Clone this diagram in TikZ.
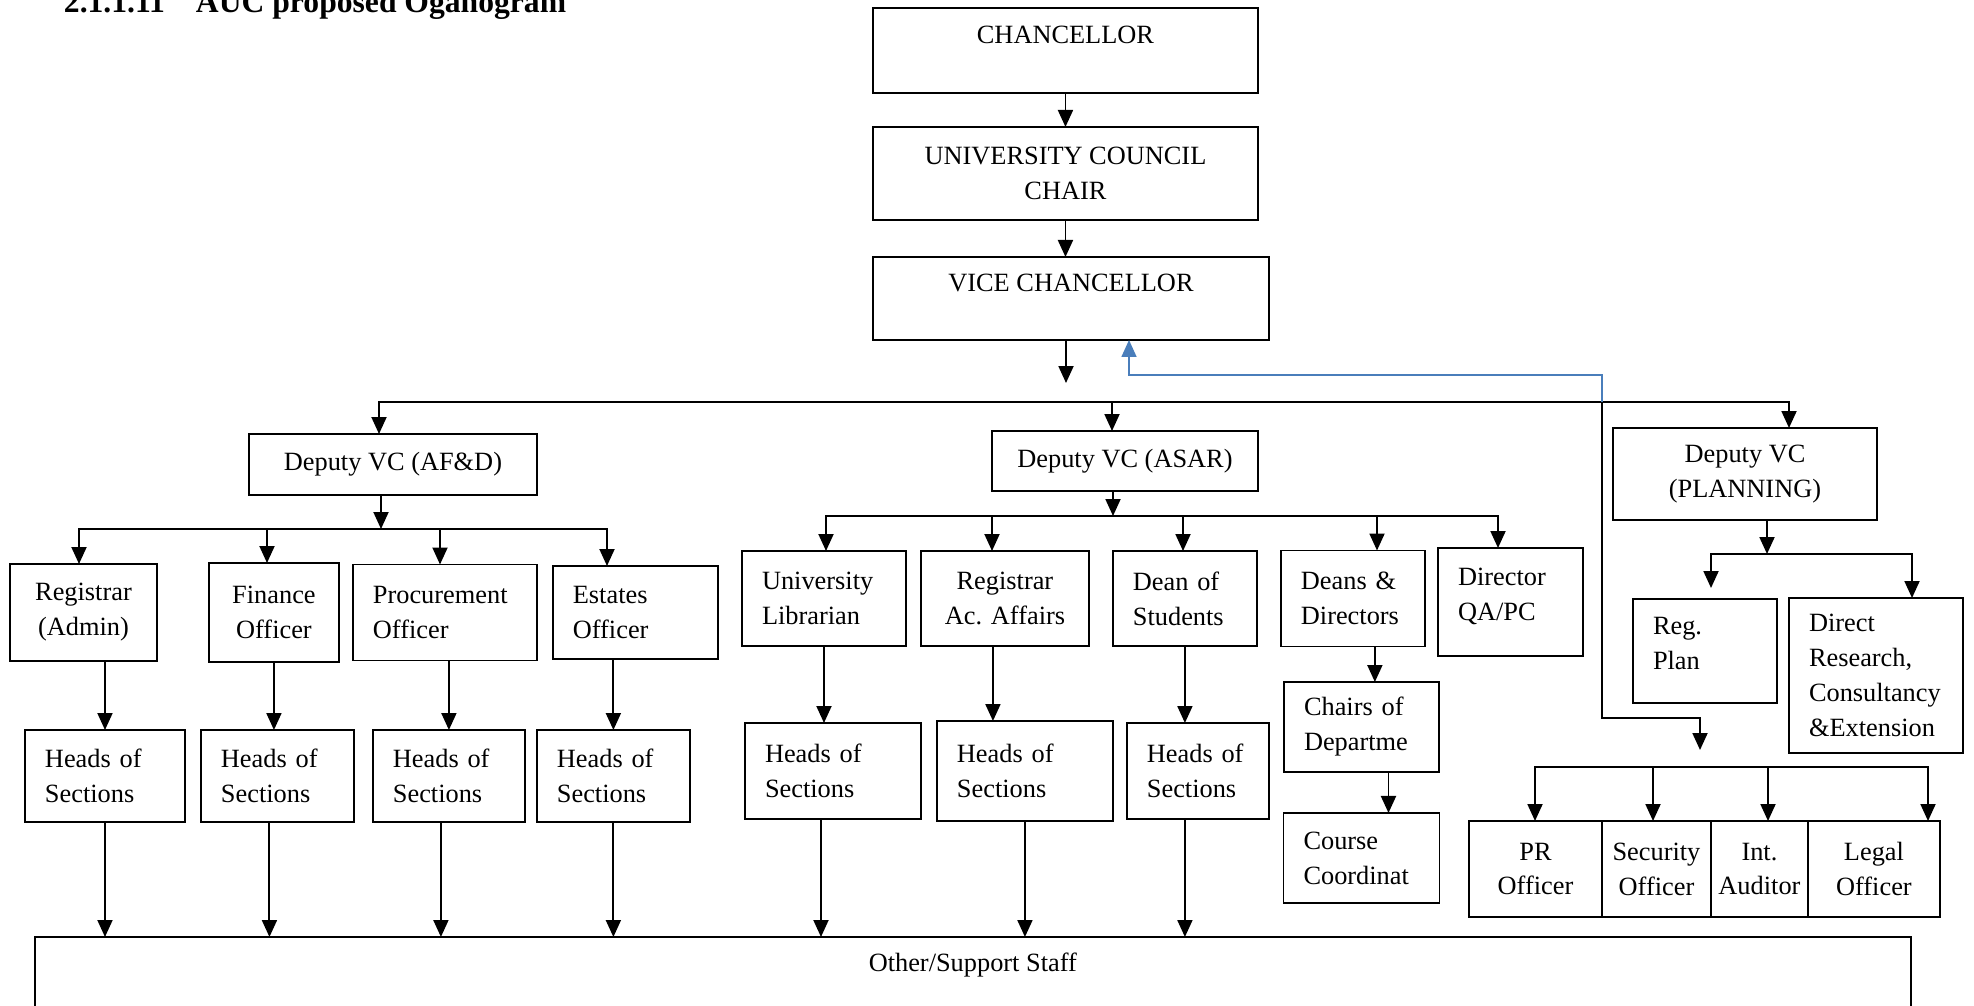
\documentclass[tikz,border=0pt]{standalone}
\usepackage{fontspec}
\setmainfont{Liberation Serif}
\usepackage{xcolor}
\usepackage{tikz}
\usetikzlibrary{arrows.meta, positioning, calc}
\definecolor{linkblue}{HTML}{4A7EBB}
\tikzset{
    orgchart/.style={>={Triangle[length=0.34cm, width=0.3cm]}, line width=1.1pt,
        x=0.02cm, y=-0.02cm, font=\fontsize{15}{19.9}\selectfont},
    block/.style={draw, inner sep=0pt, outer sep=0pt, anchor=north west, align=center},
    % left aligned text, as in the word text boxes
    lblock/.style={block, align=left, inner xsep=0.4cm, text width=#1},
    heading/.style={font=\fontsize{18}{22}\selectfont\bfseries, inner sep=0pt, anchor=base west},
    link/.style={draw=linkblue, line width=0.9pt},
}

\begin{document}
\begin{tikzpicture}[orgchart]
    \useasboundingbox (0,0) rectangle (1974,1006);
    \node[heading] (title) at (63,13) {2.1.1.11\hspace{0.62cm}AUC proposed Oganogram};

    % top of the chart
    \node[block, minimum width=7.7cm, text height=0.72cm, text depth=0.98cm] (chan) at (873,8) {CHANCELLOR};
    \node[block, below=0.68cm of chan, minimum width=7.7cm, minimum height=1.86cm] (council) {UNIVERSITY COUNCIL\\CHAIR};
    \node[block, minimum width=7.92cm, text height=0.7cm, text depth=0.96cm] (vc) at (873,257) {VICE CHANCELLOR};
    \coordinate (vcend) at (1066,383);

    % deputies
    \node[block, minimum width=5.76cm, minimum height=1.22cm] (dvcA) at (249,434) {Deputy VC (AF\&D)};
    \node[block, minimum width=5.32cm, minimum height=1.2cm] (dvcB) at (992,431) {Deputy VC (ASAR)};
    \node[block, minimum width=5.28cm, minimum height=1.84cm] (dvcC) at (1613,428) {Deputy VC\\(PLANNING)};

    % AF&D branch
    \node[block, minimum width=2.94cm, minimum height=1.94cm] (regA) at (10,564) {Registrar\\(Admin)};
    \node[block, right=1.04cm of regA, minimum width=2.6cm, minimum height=1.98cm] (fin) {Finance\\Officer};
    \node[lblock=2.88cm, right=0.28cm of fin, minimum height=1.92cm] (proc) {Procurement\\Officer};
    \node[lblock=2.5cm, right=0.32cm of proc, minimum height=1.86cm] (est) {Estates\\Officer};
    \node[lblock=2.4cm, minimum height=1.84cm] (hA1) at (25,730) {Heads of\\Sections};
    \node[lblock=2.26cm, right=0.32cm of hA1, minimum height=1.84cm] (hA2) {Heads of\\Sections};
    \node[lblock=2.24cm, right=0.38cm of hA2, minimum height=1.84cm] (hA3) {Heads of\\Sections};
    \node[lblock=2.26cm, right=0.24cm of hA3, minimum height=1.84cm] (hA4) {Heads of\\Sections};

    % ASAR branch
    \node[lblock=2.48cm, minimum height=1.9cm] (lib) at (742,551) {University\\Librarian};
    \node[block, right=0.3cm of lib, minimum width=3.36cm, minimum height=1.9cm] (regB) {Registrar\\Ac. Affairs};
    \node[lblock=2.08cm, right=0.48cm of regB, minimum height=1.9cm] (dean) {Dean of\\Students};
    \node[lblock=2.08cm, right=0.48cm of dean, minimum height=1.92cm] (deans) {Deans \&\\Directors};
    \node[lblock=2.1cm, anchor=north west, text height=0.76cm, text depth=1.4cm] (qapc) at (1438,548) {Director\\QA/PC};
    \node[lblock=2.72cm, minimum height=1.92cm] (hB1) at (745,723) {Heads of\\Sections};
    \node[lblock=2.72cm, right=0.32cm of hB1, minimum height=2cm] (hB2) {Heads of\\Sections};
    \node[lblock=2.04cm, right=0.28cm of hB2, minimum height=1.92cm] (hB3) {Heads of\\Sections};
    \node[lblock=2.3cm, minimum height=1.8cm] (chairs) at (1284,682) {Chairs of\\Departme};
    \node[lblock=2.32cm, below=0.82cm of chairs, minimum height=1.8cm] (course) {Course\\Coordinat};

    % planning branch
    \node[lblock=2.08cm, text height=0.72cm, text depth=1.36cm] (regplan) at (1633,599) {Reg.\\Plan};
    \node[lblock=2.68cm, minimum height=3.1cm] (research) at (1789,598) {Direct\\Research,\\Consultancy\\\&Extension};
    \node[block, minimum width=2.66cm, minimum height=1.92cm] (pr) at (1469,821) {PR\\Officer};
    \node[block, right=0pt of pr, minimum width=2.18cm, minimum height=1.92cm] (sec) {Security\\Officer};
    \node[block, right=0pt of sec, minimum width=1.94cm, minimum height=1.92cm] (aud) {Int.\\Auditor};
    \node[block, right=0pt of aud, minimum width=2.64cm, minimum height=1.92cm] (legal) {Legal\\Officer};

    \node[block, minimum width=37.52cm, text height=0.7cm, text depth=1.5cm] (support) at (35,937) {Other/Support Staff};

    % bus points
    \coordinate (bus1) at (379,402);
    \coordinate (bus2) at (1112,402);
    \coordinate (tap)  at (1602,402);
    \coordinate (bus3) at (1789,402);
    \coordinate (elbow) at (1129,375);
    \coordinate (bend) at (1602,718);
    \coordinate (drop) at (1700,750);
    \coordinate (afd) at (381,529);
    \coordinate (a1) at (79,529);
    \coordinate (a2) at (267,529);
    \coordinate (a3) at (440,529);
    \coordinate (a4) at (607,529);
    \coordinate (asar) at (1113,516);
    \coordinate (b1) at (826,516);
    \coordinate (b2) at (992,516);
    \coordinate (b3) at (1183,516);
    \coordinate (b4) at (1377,516);
    \coordinate (b5) at (1498,516);
    \coordinate (plan) at (1767,554);
    \coordinate (c1) at (1711,554);
    \coordinate (c2) at (1912,554);
    \coordinate (d1) at (1535,767);
    \coordinate (d2) at (1653,767);
    \coordinate (d3) at (1768,767);
    \coordinate (d4) at (1928,767);

    % spine
    \draw[->] (chan) -- (council);
    \draw[->] (council) -- (council |- vc.north);
    \draw[->] (vcend |- vc.south) -- (vcend);
    \draw[<->] (bus1 |- dvcA.north) -- (bus1) -- (bus3) -- (bus3 |- dvcC.north);
    \draw[->] (bus2) -- (bus2 |- dvcB.north);
    \draw[link, ->] (tap) |- (elbow) -- (elbow |- vc.south);
    \draw[->] (tap) -- (bend) -| (drop);

    % AF&D links
    \draw[->] (afd |- dvcA.south) -- (afd);
    \draw[<->] (a1 |- regA.north) -- (a1) -- (a4) -- (a4 |- est.north);
    \draw[->] (a2) -- (a2 |- fin.north);
    \draw[->] (a3) -- (a3 |- proc.north);
    \draw[->] (hA1.north |- regA.south) -- (hA1.north);
    \draw[->] (fin) -- (fin |- hA2.north);
    \draw[->] (hA3.north |- proc.south) -- (hA3.north);
    \draw[->] (hA4.north |- est.south) -- (hA4.north);
    \draw[->] (hA1) -- (hA1 |- support.north);
    \draw[->] ($(hA2.south)+(-8,0)$) -- ($(hA2.south |- support.north)+(-8,0)$);
    \draw[->] ($(hA3.south)+(-8,0)$) -- ($(hA3.south |- support.north)+(-8,0)$);
    \draw[->] (hA4) -- (hA4 |- support.north);

    % ASAR links
    \draw[->] (asar |- dvcB.south) -- (asar);
    \draw[<->] (b1 |- lib.north) -- (b1) -- (b5) -- (b5 |- qapc.north);
    \draw[->] (b2) -- (b2 |- regB.north);
    \draw[->] (b3) -- (b3 |- dean.north);
    \draw[->] (b4) -- (b4 |- deans.north);
    \draw[->] (lib) -- (lib |- hB1.north);
    \draw[->] ($(regB.south)+(-12,0)$) -- ($(regB.south |- hB2.north)+(-12,0)$);
    \draw[->] (dean) -- (dean |- hB3.north);
    \draw[->] ($(hB1.south)+(-12,0)$) -- ($(hB1.south |- support.north)+(-12,0)$);
    \draw[->] (hB2) -- (hB2 |- support.north);
    \draw[->] ($(hB3.south)+(-13,0)$) -- ($(hB3.south |- support.north)+(-13,0)$);
    \draw[->] ($(deans.south)+(22,0)$) -- ($(deans.south |- chairs.north)+(22,0)$);
    \draw[->] ($(chairs.south)+(27,0)$) -- ($(chairs.south |- course.north)+(27,0)$);

    % planning links
    \draw[->] (plan |- dvcC.south) -- (plan);
    \draw[<->, shorten <=0.22cm] (c1 |- regplan.north) -- (c1) -- (c2) -- (c2 |- research.north);
    \draw[<->] (d1 |- pr.north) -- (d1) -- (d4) -- (d4 |- legal.north);
    \draw[->] (d2) -- (d2 |- sec.north);
    \draw[->] (d3) -- (d3 |- aud.north);
\end{tikzpicture}
\end{document}
